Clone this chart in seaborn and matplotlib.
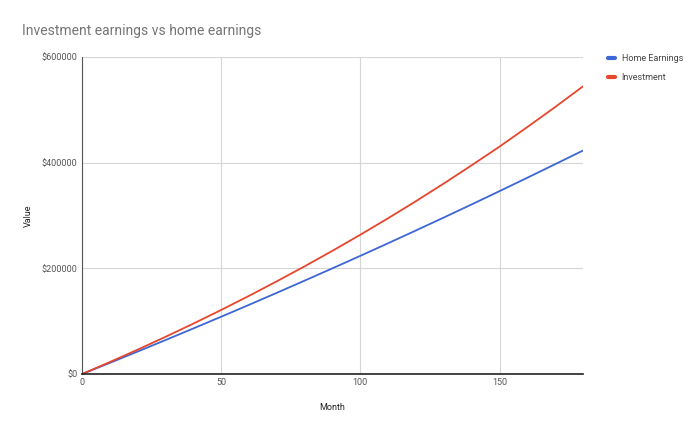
import pandas as pd
import numpy as np
import matplotlib
matplotlib.use('Agg')
import matplotlib.pyplot as plt
import seaborn as sns
from matplotlib.ticker import FuncFormatter

months = [0, 10, 20, 30, 40, 50, 60, 70, 80, 90, 100, 110, 120, 130, 140, 150, 160, 170, 180]
home_earnings = [0, 21200, 42700, 64400, 86400, 108600, 131100, 153900, 177000, 200300,
                 223900, 247800, 272000, 296500, 321300, 346400, 371800, 397500, 423300]
investment = [0, 22760, 46250, 70500, 95560, 121400, 148100, 175700, 204100, 233500,
              263800, 295200, 327500, 360900, 395400, 430700, 467800, 505700, 544900]
series_names = ['Home Earnings', 'Investment']
series_colors = ['#3d66d6', '#e6462c']

df = pd.DataFrame({'Month': months * 2,
                   'Value': home_earnings + investment,
                   'Series': [series_names[0]] * len(months) + [series_names[1]] * len(months)})

sns.set_style('white')
plt.rcParams['font.family'] = ['Roboto', 'DejaVu Sans']

fig = plt.figure(figsize=(7, 4.33), dpi=100)
ax = fig.add_axes([0.117, 0.136, 0.716, 0.732])

sns.lineplot(data=df, x='Month', y='Value', hue='Series', palette=series_colors,
             linewidth=1.3, ax=ax, legend=False)

ax.set_xlim(0, 180)
ax.set_ylim(0, 600000)
ax.set_xticks([0, 50, 100, 150])
ax.set_yticks([0, 200000, 400000, 600000])
ax.yaxis.set_major_formatter(FuncFormatter(lambda v, p: '$%d' % v))
ax.grid(True, color='#d6d6d6', linewidth=0.8)
ax.tick_params(length=0, labelsize=6.5, colors='#555555', pad=3)
for s in ['top', 'right']:
    ax.spines[s].set_visible(False)
ax.spines['left'].set_color('#555555')
ax.spines['left'].set_linewidth(0.8)
ax.spines['bottom'].set_color('#222222')
ax.spines['bottom'].set_linewidth(1.2)

ax.set_xlabel('Month', fontsize=6.5, color='#222222')
ax.set_ylabel('Value', fontsize=6.5, color='#222222')
ax.xaxis.set_label_coords(0.5, -0.092)
ax.yaxis.set_label_coords(-0.097, 0.5)

fig.text(0.031, 0.92, 'Investment earnings vs home earnings', fontsize=10, color='#757575')

handles = [plt.Line2D([], [], color=c, linewidth=3) for c in series_colors]
fig.legend(handles, series_names, loc='upper left', bbox_to_anchor=(0.857, 0.893),
           frameon=False, fontsize=6.5, labelcolor='#444444', handlelength=0.8,
           handletextpad=0.7, labelspacing=1.1)

fig.savefig('out.png', dpi=100)
